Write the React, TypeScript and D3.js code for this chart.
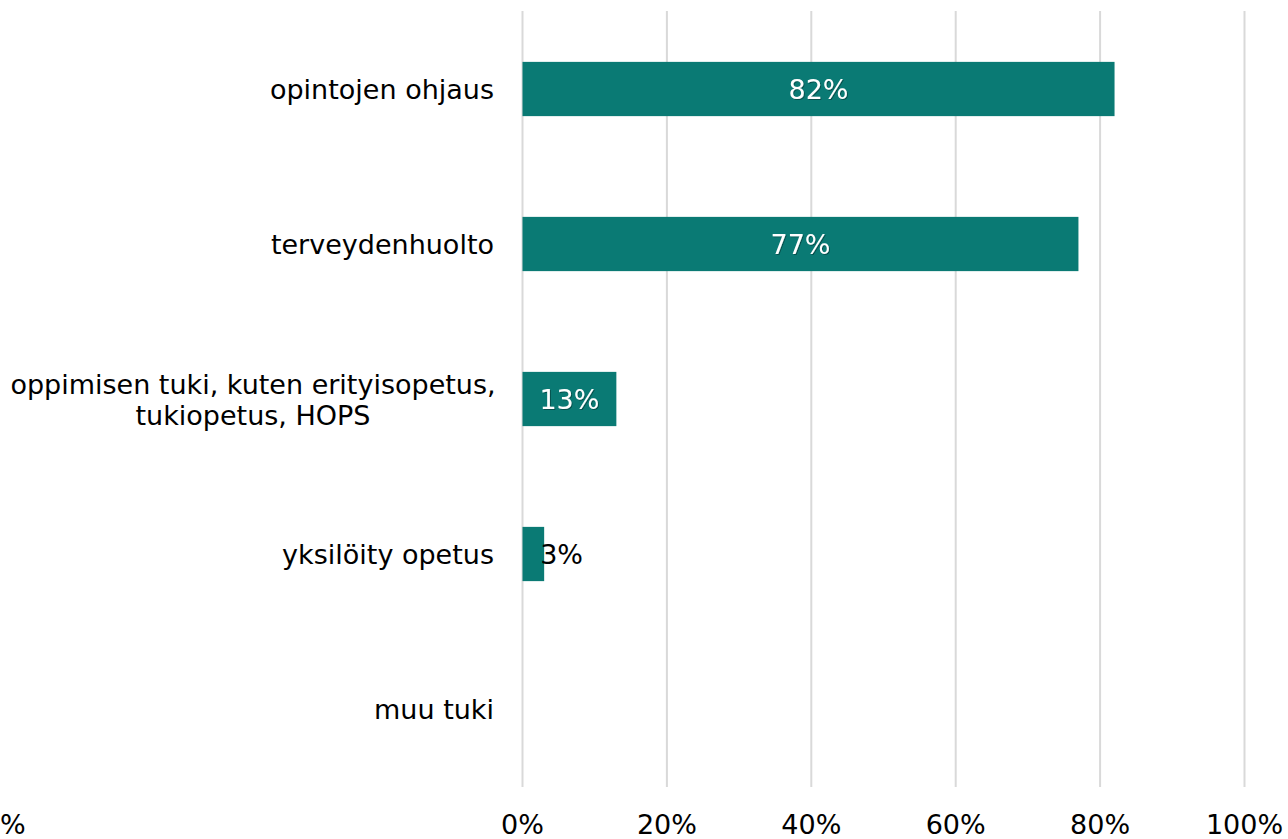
import React from "react";
import * as d3 from "d3";

const categories = [
  "opintojen ohjaus",
  "terveydenhuolto",
  "oppimisen tuki, kuten erityisopetus,|tukiopetus, HOPS",
  "yksilöity opetus",
  "muu tuki",
];
const values = [82, 77, 13, 3, 0];
const ticks = [0, 20, 40, 60, 80, 100];

const W = 1288;
const H = 839;
const FONT = "'DejaVu Sans', 'Liberation Sans', Arial, sans-serif";
const FS = 27;
const BAR = "#0a7a74";

export default function App() {
  const x = d3.scaleLinear().domain([0, 100]).range([522.5, 1244.5]);
  const y = d3
    .scaleBand<string>()
    .domain(categories)
    .range([11.5, 786.5])
    .paddingInner(0.65)
    .paddingOuter(0.325);

  return (
    <svg
      width={W}
      height={H}
      style={{ position: "absolute", left: 0, top: 0, background: "#fff" }}
      fontFamily={FONT}
    >
      <defs>
        <filter id="sh" x="-20%" y="-20%" width="140%" height="140%">
          <feDropShadow dx="1" dy="1" stdDeviation="0.6" floodColor="#000" floodOpacity="0.35" />
        </filter>
      </defs>
      {ticks.map((t) => (
        <line
          key={"g" + t}
          x1={x(t)}
          x2={x(t)}
          y1={11}
          y2={787}
          stroke="#d9d9d9"
          strokeWidth={2}
        />
      ))}
      {categories.map((c, i) => {
        const v = values[i];
        const y0 = y(c)!;
        const bh = y.bandwidth();
        const cy = y0 + bh / 2;
        const base = cy + 10;
        const lines = c.split("|");
        const labelX = 494;
        return (
          <g key={c}>
            {v > 0 && (
              <rect x={x(0)} y={y0} width={x(v) - x(0)} height={bh} fill={BAR} />
            )}
            {v > 0 &&
              (x(v) - x(0) > 60 ? (
                <text
                  x={(x(0) + x(v)) / 2}
                  y={base}
                  textAnchor="middle"
                  fill="#fff"
                  fontSize={FS}
                  filter="url(#sh)"
                >
                  {v}%
                </text>
              ) : (
                <text
                  x={x(v) - 4}
                  y={base}
                  textAnchor="start"
                  fill="#000"
                  fontSize={FS}
                >
                  {v}%
                </text>
              ))}
            {lines.length === 1 ? (
              <text x={labelX} y={base} textAnchor="end" fontSize={FS} fill="#000">
                {lines[0]}
              </text>
            ) : (
              lines.map((l, k) => (
                <text
                  key={k}
                  x={253}
                  y={base + (k - (lines.length - 1) / 2) * 31}
                  fontSize={FS}
                  fill="#000"
                  textAnchor="middle"
                >
                  {l}
                </text>
              ))
            )}
          </g>
        );
      })}
      {ticks.map((t) => (
        <text
          key={"t" + t}
          x={x(t)}
          y={834}
          textAnchor="middle"
          fontSize={FS}
          fill="#000"
        >
          {t}%
        </text>
      ))}
      <text x={0} y={834} fontSize={FS} fill="#000">
        %
      </text>
    </svg>
  );
}
